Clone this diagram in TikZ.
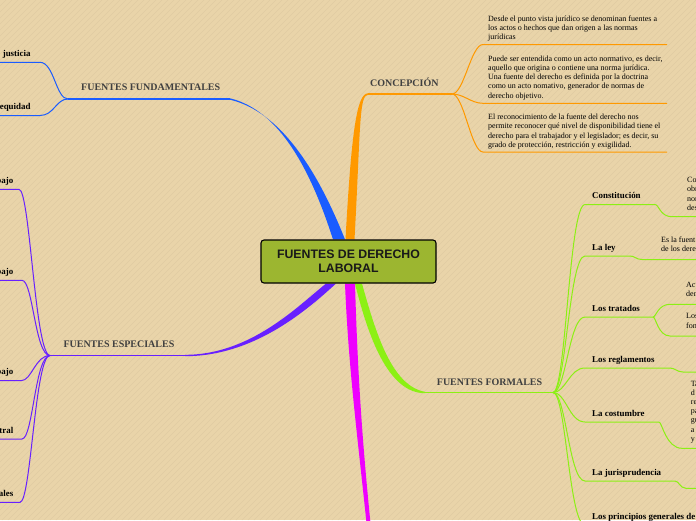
\documentclass[tikz,border=0pt]{standalone}
\usepackage{fontspec}
\setmainfont{Liberation Serif}
\setsansfont{Liberation Sans}
\usetikzlibrary{calc,backgrounds}

\definecolor{paper}{RGB}{233,212,169}
\definecolor{rootfill}{RGB}{156,182,48}
\definecolor{labelgray}{RGB}{64,64,64}
\definecolor{fundblue}{RGB}{26,92,255}
\definecolor{concorange}{RGB}{255,153,0}
\definecolor{especpurple}{RGB}{104,32,255}
\definecolor{formgreen}{RGB}{140,240,20}
\definecolor{magentabr}{RGB}{238,0,255}

\begin{document}
\begin{tikzpicture}[x=1pt,y=-1pt]
    \tikzstyle{root}=[draw=black,line width=1.1pt,fill=rootfill,rounded corners=3pt,minimum width=175pt,minimum height=43pt,inner sep=0pt,align=center,text=black!90,font=\sffamily\bfseries\fontsize{12.3}{14}\selectfont]
    \tikzstyle{topic}=[inner sep=0pt,anchor=base west,text=labelgray,font=\bfseries\fontsize{10}{12}\selectfont]
    \tikzstyle{sub}=[inner sep=0pt,font=\bfseries\fontsize{8.9}{10}\selectfont]
    \tikzstyle{note}=[inner sep=0pt,anchor=south west,align=left,font=\fontsize{8}{9.2}\selectfont]
    \tikzstyle{twig}=[line width=1pt]

    \useasboundingbox (0,0) rectangle (696,520);
    \clip (0,0) rectangle (696,520);

    \node[root] (root) at (348.5,261.5) {FUENTES DE DERECHO\\LABORAL};

    \node[topic] (fund-lbl) at (81,90.7) {FUENTES FUNDAMENTALES};
    \node[topic] (conc-lbl) at (370,86) {CONCEPCIÓN};
    \node[topic] (esp-lbl) at (63.3,347.7) {FUENTES ESPECIALES};
    \node[topic] (form-lbl) at (436.7,385) {FUENTES FORMALES};

    \coordinate (fund) at (230,99);
    \coordinate (fund-j) at (68,99);
    \coordinate (conc) at (368,94);
    \coordinate (conc-j) at (452,94);
    \coordinate (esp) at (185,355.5);
    \coordinate (esp-j) at (50,355.5);
    \coordinate (form) at (425,392.5);
    \coordinate (form-j) at (553,392.5);
    \coordinate (mag) at (369,528);

    \foreach \i/\y/\txt in {1/62.3/justicia, 2/115.5/equidad}{
        \coordinate (B-\i) at (40,\y);
        \coordinate (B-\i-e) at (-4,\y);
        \node[sub,anchor=base east] (B-\i-lbl) at (30.7,\y-6) {\txt};
    }

    \foreach \i/\y/\xe/\txt in {1/189.3/19/bajo, 2/280.3/22/bajo, 3/380.7/21/bajo, 4/439/22/tral, 5/502.3/20/ales}{
        \coordinate (P-\i) at (\xe,\y);
        \coordinate (P-\i-e) at (-4,\y);
        \node[sub,anchor=base east] (P-\i-lbl) at (13.5,\y-6) {\txt};
    }

    \foreach \i/\y in {1/44.5, 2/103.3, 3/152}{
        \coordinate (C-\i-s) at (483,\y);
        \coordinate (C-\i-e) at (667,\y);
    }
    \node[note] (C-1) at (488,41.6) {Desde el punto vista jurídico se denominan fuentes a\\los actos o hechos que dan origen a las normas\\jurídicas};
    \node[note] (C-2) at (488,100) {Puede ser entendida como un acto normativo, es decir,\\aquello que origina o contiene una norma jurídica.\\Una fuente del derecho es definida por la doctrina\\como un acto nomativo, generador de normas de\\derecho objetivo.};
    \node[note] (C-3) at (488,149.3) {El reconocimiento de la fuente del derecho nos\\permite reconocer qué nivel de disponibilidad tiene el\\derecho para el trabajador y el legislador; es decir, su\\grado de protección, restricción y exigilidad.};

    \foreach \i/\y/\xe/\txt in {1/204.5/655/Constitución, 2/256/630/La ley, 3/317/653/Los tratados, 4/368/670/Los reglamentos, 5/422/659/La costumbre, 6/481/675/La jurisprudencia, 7/525/700/Los principios generales de}{
        \coordinate (F-\i) at (585,\y);
        \coordinate (F-\i-e) at (\xe,\y);
        \node[sub,anchor=base west] (F-\i-lbl) at (592,\y-6) {\txt};
    }

    \foreach \i/\x/\y in {1/672/216.7, 2/642/259.5, 3/670/304.3, 4/670/336, 5/682/448.3, 6/686/488.3, 7/683/372}{
        \coordinate (G-\i) at (\x,\y);
        \coordinate (G-\i-e) at (700,\y);
    }
    \node[note] (N-1) at (687,210.5) {Co\\obr\\nor\\des};
    \node[note] (N-2) at (661,251.7) {Es la fuent\\de los dere};
    \node[note] (N-3) at (686,296.7) {Act\\der};
    \node[note] (N-4) at (686,328.3) {Los\\fon};
    \node[note] (N-5) at (690.7,443.3) {Ta\\d\\re\\pa\\gu\\a\\y};

    \begin{pgfonlayer}{background}
    \fill[paper] (0,0) rectangle (696,520);
    \foreach \k in {-520,-514,...,696}
        \draw[paper!96!black,line width=0.6pt] (\k,520) -- ++(520,-520);

    % fundamentales
    \fill[fundblue] ($(root.north)+(-15.5,0)$) .. controls (311,171) and (280,110.4) .. ($(fund)+(0,-0.7)$) -- ($(fund)+(0,0.7)$) .. controls (280,111.6) and (317,169) .. ($(root.north)+(-3.5,0)$) -- cycle;
    \draw[fundblue,line width=1.3pt] (fund) -- (fund-j);
    \foreach \i in {1,2}
        \draw[fundblue,twig] (fund-j) .. controls +(-12,0) and +(14,0) .. (B-\i) -- (B-\i-e);

    % concepcion
    \fill[concorange] ($(root.north)+(-3,0)$) .. controls (351.5,130) and (357,93.3) .. ($(conc)+(0,-0.7)$) -- ($(conc)+(0,0.7)$) .. controls (359,94.7) and (360.5,130) .. ($(root.north)+(6,0)$) -- cycle;
    \draw[concorange,line width=1.3pt] (conc) -- (conc-j);
    \foreach \i in {1,2,3}
        \draw[concorange,twig] (conc-j) .. controls +(12,0) and +(-12,0) .. (C-\i-s) -- (C-\i-e);

    % especiales
    \fill[especpurple] ($(root.south)+(-22.5,0)$) .. controls (297,307) and (250,354.8) .. ($(esp)+(0,-0.7)$) -- ($(esp)+(0,0.7)$) .. controls (252,356.2) and (304,313) .. ($(root.south)+(-12.5,0)$) -- cycle;
    \draw[especpurple,line width=1.3pt] (esp) -- (esp-j);
    \foreach \i in {1,...,5}
        \draw[especpurple,twig] (esp-j) .. controls +(-15,0) and +(11,0) .. (P-\i) -- (P-\i-e);

    % sin titulo
    \fill[magentabr] ($(root.south)+(-3.5,0)$) .. controls (348.5,370) and (358,440) .. ($(mag)+(-2,0)$) -- ($(mag)+(2,0)$) .. controls (362,440) and (357.5,370) .. ($(root.south)+(6.5,0)$) -- cycle;

    % formales
    \fill[formgreen] ($(root.south)+(6.5,0)$) .. controls (368,336) and (388,393.2) .. ($(form)+(0,0.7)$) -- ($(form)+(0,-0.7)$) .. controls (392,386) and (376,334) .. ($(root.south)+(13.5,0)$) -- cycle;
    \draw[formgreen,line width=1.3pt] (form) -- (form-j);
    \foreach \i in {1,...,7}
        \draw[formgreen,twig] (form-j) .. controls +(13,0) and +(-16,0) .. (F-\i) -- (F-\i-e);

    \foreach \from/\to/\a/\b in {1/1/4/-12, 2/2/5/-6, 3/3/3/-12, 3/4/3/-12, 4/7/5/-6, 5/5/3/-16, 6/6/4/-6}
        \draw[formgreen,twig] (F-\from-e) .. controls +(\a,0) and +(\b,0) .. (G-\to) -- (G-\to-e);
    \end{pgfonlayer}
\end{tikzpicture}
\end{document}
